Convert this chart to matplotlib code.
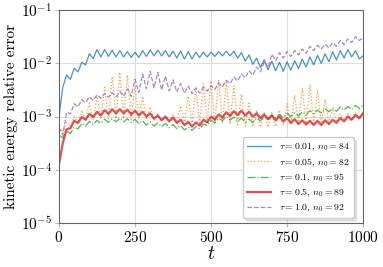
import numpy as np
import matplotlib
matplotlib.use("Agg")
import matplotlib.pyplot as plt
from matplotlib.ticker import LogLocator, NullLocator

plt.rcParams['font.family'] = 'serif'
plt.rcParams['font.serif'] = ['cmr10']
plt.rcParams['mathtext.fontset'] = 'cm'
plt.rcParams['axes.formatter.use_mathtext'] = True

# sample times: peaks at t_hi, troughs at t_lo (values are log10 of the error)
t_hi = np.arange(0, 1000.1, 25.0)
t_lo = np.arange(12.5, 1000, 25.0)

blue_hi = [-3.00, -2.22, -2.09, -1.98, -1.82, -1.74, -1.74, -1.75, -1.76, -1.78, -1.79,
           -1.76, -1.75, -1.75, -1.76, -1.77, -1.77, -1.78, -1.79, -1.79, -1.79,
           -1.78, -1.77, -1.77, -1.80, -1.84, -1.90, -1.93, -1.96, -1.98, -1.97,
           -1.95, -1.92, -1.88, -1.85, -1.82, -1.78, -1.76, -1.74, -1.76, -1.86]
blue_lo = [-2.45, -2.30, -2.16, -2.03, -1.91, -1.88, -1.87, -1.88, -1.88, -1.89,
           -1.89, -1.87, -1.86, -1.86, -1.88, -1.90, -1.92, -1.92, -1.89, -1.88,
           -1.87, -1.86, -1.86, -1.90, -1.96, -2.02, -2.08, -2.12, -2.14, -2.15,
           -2.13, -2.10, -2.07, -2.03, -2.00, -1.97, -1.94, -1.90, -1.88, -1.92]

orange_hi = [-3.20, -3.10, -3.00, -2.88, -2.75, -2.62, -2.45, -2.25, -2.17, -2.22, -2.42,
             -2.62, -2.82, -2.95, -3.00, -2.95, -2.80, -2.62, -2.48, -2.38, -2.33,
             -2.31, -2.33, -2.42, -2.58, -2.75, -2.88, -2.93, -2.93, -2.88, -2.76,
             -2.60, -2.47, -2.40, -2.50, -2.68, -2.85, -2.95, -2.95, -2.92, -2.93]
orange_lo = [-3.30, -3.18, -3.12, -3.08, -3.06, -3.05, -3.05, -3.04, -3.04, -3.05,
             -3.05, -3.06, -3.07, -3.08, -3.08, -3.09, -3.10, -3.12, -3.12, -3.11,
             -3.12, -3.13, -3.14, -3.16, -3.18, -3.19, -3.20, -3.20, -3.19, -3.17,
             -3.15, -3.14, -3.13, -3.13, -3.13, -3.12, -3.10, -3.08, -3.07, -3.05]

green_hi = [-3.35, -3.27, -3.20, -3.13, -3.09, -3.07, -3.05, -3.04, -3.03, -3.04, -3.05,
            -3.08, -3.10, -3.12, -3.13, -3.15, -3.17, -3.20, -3.19, -3.14, -3.07,
            -3.03, -3.00, -3.01, -3.03, -3.05, -3.03, -3.00, -2.97, -2.96, -2.94,
            -2.93, -2.91, -2.89, -2.88, -2.85, -2.84, -2.82, -2.81, -2.79, -2.78]
green_lo = [-3.40, -3.32, -3.23, -3.18, -3.15, -3.13, -3.11, -3.10, -3.10, -3.11,
            -3.13, -3.16, -3.18, -3.19, -3.21, -3.23, -3.25, -3.26, -3.23, -3.17,
            -3.12, -3.08, -3.07, -3.09, -3.11, -3.11, -3.08, -3.05, -3.03, -3.02,
            -3.00, -2.99, -2.97, -2.95, -2.93, -2.91, -2.90, -2.88, -2.87, -2.85]

red_hi = [-3.90, -3.24, -3.08, -3.01, -2.95, -2.91, -2.88, -2.86, -2.86, -2.87, -2.89,
          -2.91, -2.94, -2.98, -3.00, -3.02, -3.06, -3.10, -3.11, -3.06, -3.00,
          -2.96, -2.92, -2.90, -2.89, -2.91, -2.94, -2.96, -2.98, -3.00, -3.03,
          -3.05, -3.07, -3.08, -3.08, -3.07, -3.06, -3.03, -3.00, -2.97, -2.94]
red_lo = [-3.50, -3.22, -3.12, -3.06, -3.01, -2.98, -2.95, -2.94, -2.94, -2.96,
          -2.98, -3.00, -3.04, -3.07, -3.09, -3.12, -3.16, -3.19, -3.17, -3.11,
          -3.06, -3.02, -2.99, -2.97, -2.98, -3.00, -3.03, -3.05, -3.07, -3.09,
          -3.12, -3.14, -3.15, -3.16, -3.16, -3.14, -3.12, -3.09, -3.06, -3.03]

purple_hi = [-3.20, -2.92, -2.76, -2.68, -2.63, -2.59, -2.57, -2.55, -2.53, -2.48, -2.30,
             -2.20, -2.15, -2.17, -2.24, -2.31, -2.38, -2.43, -2.46, -2.45, -2.42,
             -2.37, -2.32, -2.26, -2.20, -2.14, -2.07, -1.97, -1.83, -1.80, -1.78,
             -1.76, -1.73, -1.68, -1.66, -1.64, -1.61, -1.57, -1.54, -1.50, -1.52]
purple_lo = [-3.35, -2.95, -2.82, -2.74, -2.70, -2.66, -2.64, -2.63, -2.62, -2.62,
             -2.55, -2.48, -2.46, -2.50, -2.52, -2.54, -2.56, -2.57, -2.56, -2.52,
             -2.49, -2.44, -2.38, -2.33, -2.27, -2.22, -2.16, -2.08, -1.95, -1.90,
             -1.87, -1.84, -1.81, -1.76, -1.73, -1.71, -1.68, -1.65, -1.61, -1.57]

labels = [r'$\tau = 0.01$, $n_0 = 84$', r'$\tau = 0.05$, $n_0 = 82$',
          r'$\tau = 0.1$, $n_0 = 95$', r'$\tau = 0.5$, $n_0 = 89$',
          r'$\tau = 1.0$, $n_0 = 92$']


def zigzag(hi, lo):
    t = np.empty(len(t_hi) + len(t_lo))
    v = np.empty_like(t)
    t[0::2] = t_hi
    t[1::2] = t_lo
    v[0::2] = hi
    v[1::2] = lo
    return t, 10.0 ** v


fig = plt.figure(figsize=(3.83, 2.67), dpi=100)
ax = fig.add_axes([0.154, 0.165, 0.794, 0.797])

series = [(blue_hi, blue_lo, '#1f77b4', '-', 0.9),
          (orange_hi, orange_lo, '#ff7f0e', ':', 0.9),
          (green_hi, green_lo, '#2ca02c', '-.', 0.9),
          (red_hi, red_lo, '#d62728', '-', 1.6),
          (purple_hi, purple_lo, '#9467bd', '--', 0.9)]

for (hi, lo, c, ls, lw), lab in zip(series, labels):
    t, v = zigzag(hi, lo)
    ax.plot(t, v, color=c, ls=ls, lw=lw, alpha=0.8, label=lab)

ax.set_yscale('log')
ax.set_ylim(1e-5, 1e-1)
ax.set_xlim(0, 1000)
ax.set_xticks([0, 250, 500, 750, 1000])
ax.yaxis.set_major_locator(LogLocator(base=10, numticks=10))
ax.yaxis.set_minor_locator(NullLocator())
ax.grid(True, color='#dddddd', lw=0.8)
ax.set_axisbelow(True)
for s in ax.spines.values():
    s.set_color('#666666')
    s.set_linewidth(0.8)
ax.tick_params(axis='both', which='major', labelsize=11, length=3,
               color='#bbbbbb', pad=2)
ax.set_xlabel(r'$t$', fontsize=14, labelpad=0)
ax.set_ylabel('kinetic energy relative error', fontsize=11, labelpad=2)

leg = ax.legend(loc='lower right', fontsize=7, fancybox=True,
                shadow={'color': '0.7', 'alpha': 0.35}, framealpha=1,
                edgecolor='#cccccc', handlelength=2.4, handletextpad=0.8,
                borderpad=0.45, labelspacing=0.3,
                bbox_to_anchor=(0.985, 0.0))

fig.savefig('out.png', dpi=100)
